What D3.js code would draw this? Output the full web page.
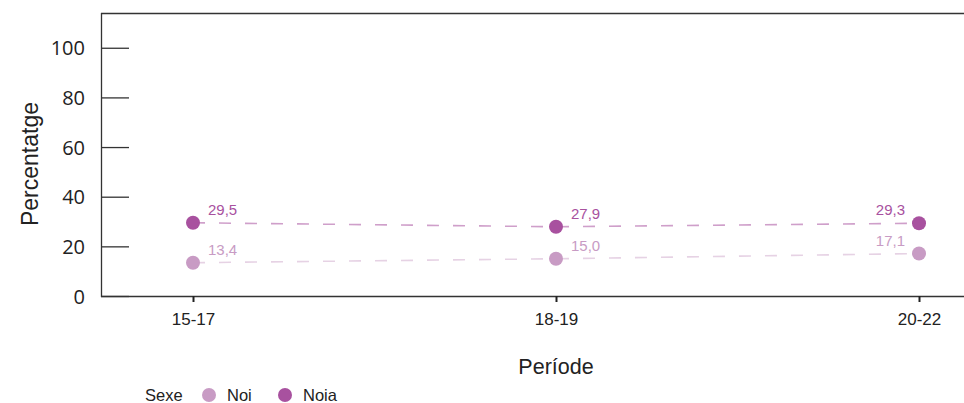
<!DOCTYPE html>
<html><head><meta charset="utf-8">
<script src="https://cdn.jsdelivr.net/npm/d3@7"></script>
<style>body{margin:0;background:#fff}svg{display:block}</style>
</head><body>
<svg id="chart" width="964" height="403"></svg>
<script>
const periods = ["15-17", "18-19", "20-22"];
const noiValues = [13.4, 15.0, 17.1];
const noiaValues = [29.5, 27.9, 29.3];
const seriesNames = ["Noi", "Noia"];
const seriesColors = ["#c89bc4", "#a8519f"];
const yTicks = [0, 20, 40, 60, 80, 100];

(function () {
const svg = d3.select("#chart");
const pL = 101, pT = 13, pR = 970, pB = 296;
const x = d3.scalePoint().domain(periods).range([193, 919]);
const y = d3.scaleLinear().domain([0, 114]).range([pB, pT]);

// frame
svg.append("line").attr("x1", pL).attr("x2", pR).attr("y1", pT+0.5).attr("y2", pT+0.5).attr("stroke", "#333").attr("stroke-width", 1.3);

const yAxis = svg.append("g").attr("transform", `translate(${pL},0)`)
  .call(d3.axisRight(y).tickValues(yTicks).tickSize(28).tickFormat(d3.format("d")));
yAxis.select(".domain").remove();
yAxis.selectAll(".tick line").attr("stroke", "#333").attr("stroke-width", 1.3);
yAxis.selectAll(".tick text").attr("x", -16).attr("text-anchor", "end")
  .attr("font-family", "Open Sans").attr("font-size", 20).attr("fill", "#222").attr("dy", "0.35em");
svg.append("line").attr("x1", pL+0.5).attr("x2", pL+0.5).attr("y1", pT).attr("y2", pB+1).attr("stroke", "#333").attr("stroke-width", 1.3);

const xAxis = svg.append("g").attr("transform", `translate(0,${pB})`)
  .call(d3.axisBottom(x).tickSize(6).tickPadding(11));
xAxis.select(".domain").attr("d", `M${pL},0.5H${pR}`).attr("stroke", "#333").attr("stroke-width", 1.3);
xAxis.selectAll(".tick line").attr("stroke", "#222").attr("stroke-width", 2);
xAxis.selectAll(".tick text").attr("font-family", "Liberation Sans").attr("font-size", 17).attr("fill", "#222");

svg.append("text").attr("x", 556).attr("y", 374).attr("text-anchor", "middle")
  .attr("font-family", "Liberation Sans").attr("font-size", 21.5).attr("fill", "#222").text("Període");
svg.append("text").attr("transform", "translate(37.5,164) rotate(-90)").attr("text-anchor", "middle")
  .attr("font-family", "Liberation Sans").attr("font-size", 23).attr("fill", "#222").text("Percentatge");

const series = [noiValues, noiaValues];
const fmt = v => d3.format(".1f")(v).replace(".", ",");
series.forEach((vals, si) => {
  const pts = periods.map((p, i) => [x(p), y(vals[i])]);
  svg.append("path").attr("d", d3.line()(pts)).attr("fill", "none")
    .attr("stroke", seriesColors[si]).attr("stroke-opacity", si ? 0.55 : 0.45)
    .attr("stroke-width", 1.6).attr("stroke-dasharray", "12,14");
  svg.selectAll(null).data(periods).enter().append("circle")
    .attr("cx", d => x(d)).attr("cy", (d, i) => y(vals[i])).attr("r", 7)
    .attr("fill", seriesColors[si]);
  svg.selectAll(null).data(periods).enter().append("text")
    .attr("x", (d, i) => i === periods.length - 1 ? x(d) - 14 : x(d) + 15)
    .attr("y", (d, i) => y(vals[i]) - 8)
    .attr("text-anchor", (d, i) => i === periods.length - 1 ? "end" : "start")
    .attr("font-family", "Liberation Sans").attr("font-size", 15)
    .attr("fill", seriesColors[si]).text((d, i) => fmt(vals[i]));
});

// legend
const lg = svg.append("g").attr("font-family", "Liberation Sans").attr("font-size", 16.5).attr("fill", "#222");
lg.append("text").attr("x", 145).attr("y", 401).text("Sexe");
const legX = [209, 285];
seriesNames.forEach((n, i) => {
  lg.append("circle").attr("cx", legX[i]).attr("cy", 395).attr("r", 7).attr("fill", seriesColors[i]);
  lg.append("text").attr("x", legX[i] + 18).attr("y", 401).text(n);
});
})();
</script>
</body></html>
